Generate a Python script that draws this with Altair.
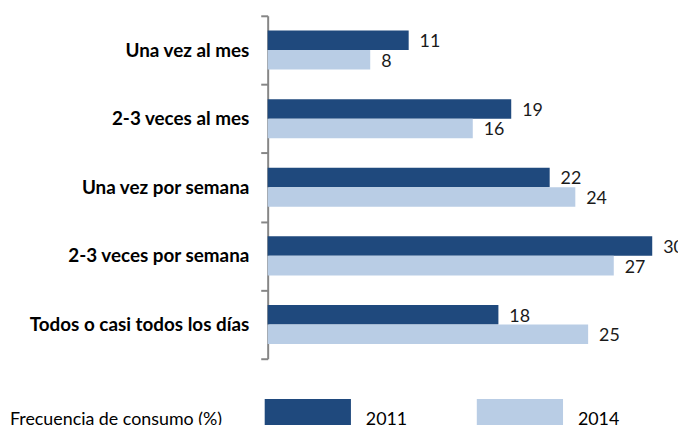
import altair as alt
import pandas as pd

categories = [
    "Una vez al mes",
    "2-3 veces al mes",
    "Una vez por semana",
    "2-3 veces por semana",
    "Todos o casi todos los días",
]
years = ["2011", "2014"]
values_2011 = [11, 19, 22, 30, 18]
values_2014 = [8, 16, 24, 27, 25]
colors = ["#1F497D", "#B9CDE5"]
legend_title = "Frecuencia de consumo (%)"

rows = []
for c, v1, v2 in zip(categories, values_2011, values_2014):
    rows.append({"category": c, "year": "2011", "value": v1})
    rows.append({"category": c, "year": "2014", "value": v2})
df = pd.DataFrame(rows)

FONT = "Lato"

y_enc = alt.Y(
    "category:N",
    sort=categories,
    scale=alt.Scale(paddingInner=0, paddingOuter=0),
    axis=alt.Axis(
        title=None,
        tickBand="extent",
        domainColor="#868686",
        domainWidth=2,
        tickColor="#868686",
        tickWidth=2,
        tickSize=7,
        labelPadding=12,
        labelFont=FONT,
        labelFontWeight="bold",
        labelFontSize=19,
        labelColor="#000000",
        labelLimit=400,
    ),
)
yoff_enc = alt.YOffset(
    "year:N", sort=years, scale=alt.Scale(paddingOuter=0.756, paddingInner=0)
)
x_enc = alt.X(
    "value:Q", scale=alt.Scale(domain=[0, 30], nice=False, zero=True), axis=None
)

bars = alt.Chart(df).mark_bar(opacity=1).encode(
    x=x_enc,
    y=y_enc,
    yOffset=yoff_enc,
    color=alt.Color(
        "year:N",
        sort=years,
        scale=alt.Scale(domain=years, range=colors),
        legend=alt.Legend(
            title=legend_title,
            orient="none",
            legendX=-260,
            legendY=364,
            direction="horizontal",
            titleOrient="left",
            titleFont=FONT,
            titleFontSize=18,
            titleFontWeight="normal",
            titleColor="#000000",
            titleLimit=400,
            titlePadding=42,
            titleAnchor="end",
            titleBaseline="bottom",
            symbolType="M-1,-0.483H1V0.207H-1Z",
            symbolSize=7569,
            symbolStrokeWidth=0,
            symbolOpacity=1,
            labelOffset=15,
            columnPadding=70,
            labelFont=FONT,
            labelFontSize=18,
            labelColor="#000000",
        ),
    ),
)

labels = alt.Chart(df).mark_text(
    align="left", baseline="middle", dx=11, dy=2, font=FONT, fontSize=18, color="#1a1a1a"
).encode(
    x=x_enc,
    y=alt.Y("category:N", sort=categories),
    yOffset=yoff_enc,
    text=alt.Text("value:Q"),
)

chart = (
    alt.layer(bars, labels)
    .properties(
        width=388,
        height=346,
        padding={"left": 262, "top": 6, "right": 26, "bottom": 65},
        autosize="none",
    )
    .configure_view(stroke=None)
)

chart.save("out.html", embed_options={"renderer": "svg", "actions": False})
